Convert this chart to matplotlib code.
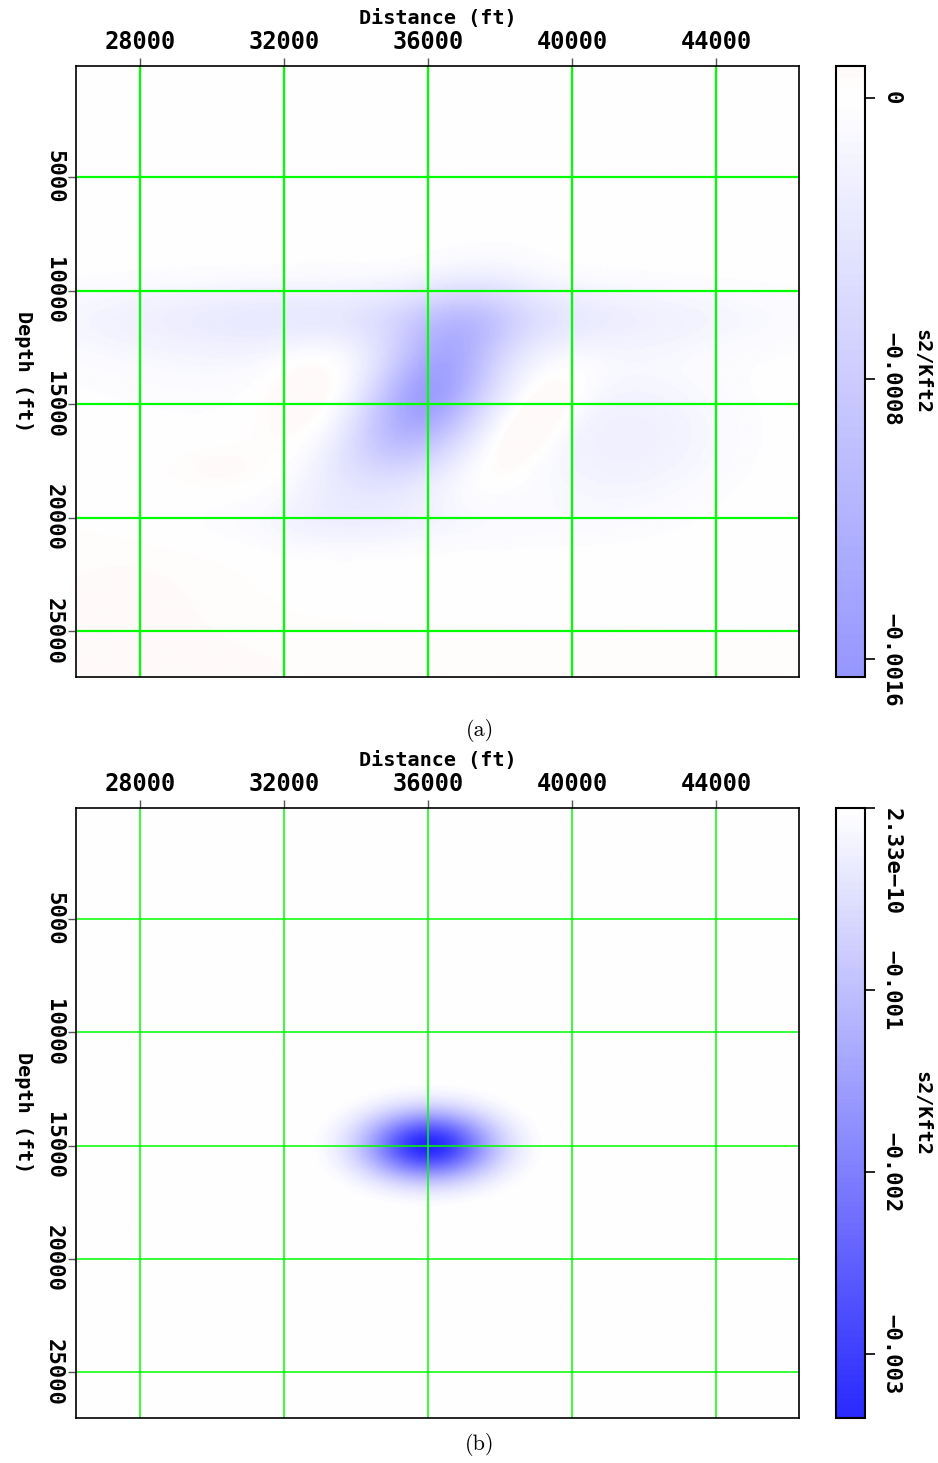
import numpy as np
import matplotlib.pyplot as plt
from matplotlib.colors import LinearSegmentedColormap, ListedColormap, Normalize

# axis extents in ft
x_range = [26220, 46300]
z_range = [110, 27020]

x_ticks = [28000, 32000, 36000, 40000, 44000]
z_ticks = [5000, 10000, 15000, 20000, 25000]

# panel (a) anomalies:
# centre x, centre z, sigma along, sigma across, tilt (deg), amplitude (s2/Kft2)
a_x0 = [36050, 35500, 37200, 41500, 38900, 32800, 34500, 30500, 30200, 27500, 36000, 33500]
a_z0 = [14500, 11200, 11200, 16500, 15800, 14200, 20200, 13000, 17800, 23500, 26800, 17800]
a_su = [2600, 6500, 2600, 2300, 1700, 1800, 3500, 3500, 900, 2500, 12000, 2000]
a_sv = [1150, 1150, 1000, 2000, 650, 1000, 900, 2000, 700, 2500, 1500, 900]
a_ang = [108, 0, 0, 110, 115, 100, 0, 0, 0, 0, 0, 110]
a_amp = [-0.0015, -0.00036, -0.0001, -0.00026, 0.00032, 0.00022,
         -0.00015, -0.0001, 0.00006, 0.00005, 0.00004, -0.00018]
a_cut = [None] * 12
a_background = 0.000015

# panel (b): single tapered gaussian anomaly
b_x0 = [36000]
b_z0 = [15000]
b_su = [1230]
b_sv = [1040]
b_ang = [0]
b_amp = [-0.0034]
b_cut = [2.7]
b_background = 0.0

a_clip = [-0.00165, 0.000091]
b_clip = [-0.00335, 2.33e-10]
a_cb_ticks = [0, -0.0008, -0.0016]
a_cb_labels = ['0', '\u22120.0008', '\u22120.0016']
b_cb_ticks = [2.33e-10, -0.001, -0.002, -0.003]
b_cb_labels = ['2.33e\u221210', '\u22120.001', '\u22120.002', '\u22120.003']

polar_clip = 0.004
font = 'DejaVu Sans Mono'


def build_field(x0, z0, su, sv, ang, amp, cut, background):
    xs = np.linspace(x_range[0], x_range[1], 400)
    zs = np.linspace(z_range[0], z_range[1], 400)
    X, Z = np.meshgrid(xs, zs)
    field = np.full(X.shape, background)
    for i in range(len(x0)):
        t = np.deg2rad(ang[i])
        dx = X - x0[i]
        dz = Z - z0[i]
        u = dx * np.cos(t) + dz * np.sin(t)
        v = -dx * np.sin(t) + dz * np.cos(t)
        g = np.exp(-0.5 * ((u / su[i]) ** 2 + (v / sv[i]) ** 2))
        if cut[i] is not None:
            # taper to zero at the edge of the anomaly
            ge = np.exp(-0.5 * cut[i] ** 2)
            g = np.clip(g - ge, 0, None) / (1 - ge)
        field += amp[i] * g
    return field


base = LinearSegmentedColormap.from_list('polar', [(0, 0, 1), (1, 1, 1), (1, 0, 0)])


def sub_cmap(lo, hi):
    f0 = (lo + polar_clip) / (2 * polar_clip)
    f1 = (hi + polar_clip) / (2 * polar_clip)
    return ListedColormap(base(np.linspace(f0, f1, 256)))


fig = plt.figure(figsize=(9.38, 14.63), dpi=100)
W, H = 938.0, 1463.0

panels = [
    (build_field(a_x0, a_z0, a_su, a_sv, a_ang, a_amp, a_cut, a_background), a_clip,
     a_cb_ticks, a_cb_labels, 66, 677, 1.6, '(a)', 731),
    (build_field(b_x0, b_z0, b_su, b_sv, b_ang, b_amp, b_cut, b_background), b_clip,
     b_cb_ticks, b_cb_labels, 808, 1418, 1.1, '(b)', 1445),
]

for field, clip, cticks, clabels, top, bot, glw, tag, tag_y in panels:
    ax = fig.add_axes([76 / W, 1 - bot / H, 723 / W, (bot - top) / H])
    im = ax.imshow(field, extent=[x_range[0], x_range[1], z_range[1], z_range[0]],
                   cmap=sub_cmap(clip[0], clip[1]), norm=Normalize(clip[0], clip[1]),
                   aspect='auto', interpolation='bilinear')
    ax.set_xlim(x_range)
    ax.set_ylim(z_range[1], z_range[0])
    ax.xaxis.tick_top()
    ax.xaxis.set_label_position('top')
    ax.set_xticks(x_ticks)
    ax.set_yticks(z_ticks)
    ax.set_xticklabels([str(v) for v in x_ticks], fontfamily=font,
                       fontweight='bold', fontsize=17)
    ax.set_yticklabels([str(v) for v in z_ticks], fontfamily=font,
                       fontweight='bold', fontsize=16, rotation=-90, va='center')
    ax.tick_params(length=6, width=1, color='#555555', pad=2.5)
    ax.set_xlabel('Distance (ft)', fontfamily=font, fontweight='bold',
                  fontsize=14.5)
    ax.xaxis.set_label_coords(0.5, 1 + 38 / (bot - top))
    ax.xaxis.label.set_va('bottom')
    ax.set_ylabel('Depth (ft)', fontfamily=font, fontweight='bold',
                  fontsize=14.5, rotation=-90, ha='center', va='center')
    ax.yaxis.set_label_coords(-0.072, 0.5)
    ax.grid(True, color='#00ff00', linewidth=glw)
    for s in ax.spines.values():
        s.set_linewidth(1.2)

    cax = fig.add_axes([836 / W, 1 - bot / H, 29 / W, (bot - top) / H])
    cb = fig.colorbar(im, cax=cax)
    cb.set_ticks(cticks)
    cb.set_ticklabels(clabels)
    cb.outline.set_linewidth(1.5)
    cax.tick_params(length=7, width=1.2, pad=12)
    for k, lab in enumerate(cax.get_yticklabels()):
        lab.set_rotation(-90)
        lab.set_va('center')
        lab.set_ha('center')
        lab.set_fontfamily(font)
        lab.set_fontweight('bold')
        lab.set_fontsize(16)
        if cticks[k] > 1e-12:
            lab.set_va('top')
    cb.set_label('s2/Kft2', rotation=-90, fontfamily=font, fontweight='bold',
                 fontsize=14.5, labelpad=8, va='bottom')

    fig.text(480 / W, 1 - tag_y / H, tag, family='cmr10', fontsize=16,
             ha='center', va='center')

fig.savefig('out.png', dpi=100)
